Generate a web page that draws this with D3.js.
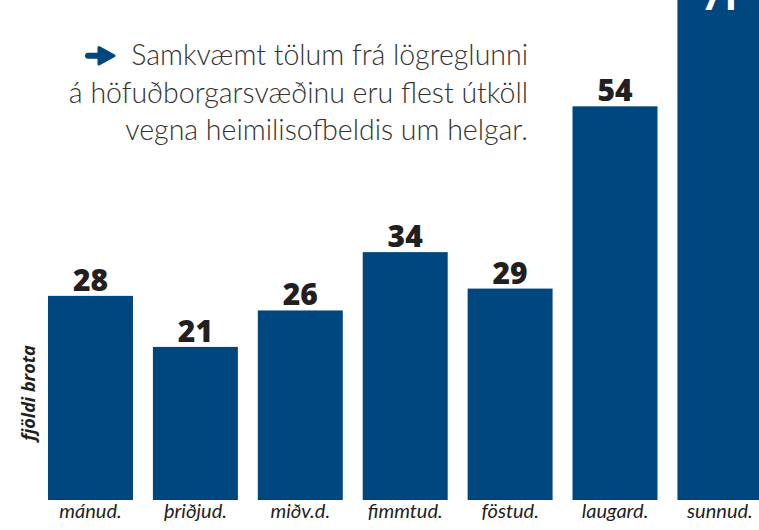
<!DOCTYPE html>
<html>
<head>
<meta charset="utf-8">
<script src="https://cdn.jsdelivr.net/npm/d3@7"></script>
<style>
  body { margin: 0; background: #fff; }
  svg { display: block; }
</style>
</head>
<body>
<svg id="chart"></svg>
<script>
const days = ["mánud.", "þriðjud.", "miðv.d.", "fimmtud.", "föstud.", "laugard.", "sunnud."];
const calls = [28, 21, 26, 34, 29, 54, 71];
const noteLines = ["Samkvæmt tölum frá lögreglunni", "á höfuðborgarsvæðinu eru flest útköll", "vegna heimilisofbeldis um helgar."];
const yLabel = "fjöldi brota";

const width = 759, height = 530;
const barColor = "#00467f", textColor = "#231f20";

const svg = d3.select("#chart")
    .attr("width", width)
    .attr("height", height);

const x = d3.scaleBand().domain(days).range([48, 762.4]).paddingInner(0.19).paddingOuter(0);
const y = d3.scaleLinear().domain([0, 71]).range([500, -17.6]);

const rows = days.map((d, i) => ({ day: d, value: calls[i] }));

svg.selectAll(".bar")
    .data(rows)
    .enter().append("rect")
    .attr("class", "bar")
    .attr("x", d => x(d.day))
    .attr("y", d => y(d.value))
    .attr("width", x.bandwidth())
    .attr("height", d => y(0) - y(d.value))
    .attr("fill", barColor);

// value labels: above the bar, or inside in white if there is no room
svg.selectAll(".label")
    .data(rows)
    .enter().append("text")
    .attr("class", "label")
    .attr("x", d => x(d.day) + x.bandwidth() / 2)
    .attr("y", d => y(d.value) > 30 ? y(d.value) - 5 : y(d.value) + 28)
    .attr("text-anchor", "middle")
    .style("font-family", "'Open Sans', sans-serif")
    .style("font-weight", "800")
    .style("font-size", "30px")
    .style("fill", d => y(d.value) > 30 ? textColor : "#fff")
    .text(d => d.value);

const xAxis = svg.append("g")
    .attr("transform", `translate(0,${y(0)})`)
    .call(d3.axisBottom(x).tickSize(0).tickPadding(4));
xAxis.select(".domain").remove();
xAxis.selectAll("text")
    .style("font-family", "Lato, sans-serif")
    .style("font-style", "italic")
    .style("font-size", "20px")
    .style("fill", textColor);

svg.append("text")
    .attr("transform", "translate(35,393) rotate(-90)")
    .attr("text-anchor", "middle")
    .style("font-family", "'Open Sans', sans-serif")
    .style("font-weight", "700")
    .style("font-style", "italic")
    .style("font-size", "18px")
    .style("fill", textColor)
    .text(yLabel);

// note in the top left
const note = svg.append("g")
    .style("font-family", "Lato, sans-serif")
    .style("font-weight", "300")
    .style("font-size", "28.5px")
    .style("fill", "#333");

note.selectAll("text")
    .data(noteLines)
    .enter().append("text")
    .attr("x", 528)
    .attr("y", (d, i) => 65 + i * 37.5)
    .attr("text-anchor", "end")
    .text(d => d);

// blue arrow in front of the note
const arrow = svg.append("g").attr("fill", barColor).attr("stroke", barColor);
arrow.append("line")
    .attr("x1", 88).attr("y1", 55.7).attr("x2", 104).attr("y2", 55.7)
    .attr("stroke-width", 6).attr("stroke-linecap", "round");
arrow.append("path")
    .attr("d", "M99,47.5 L114,55.7 L99,64 Z")
    .attr("stroke-width", 3).attr("stroke-linejoin", "round");
</script>
</body>
</html>
